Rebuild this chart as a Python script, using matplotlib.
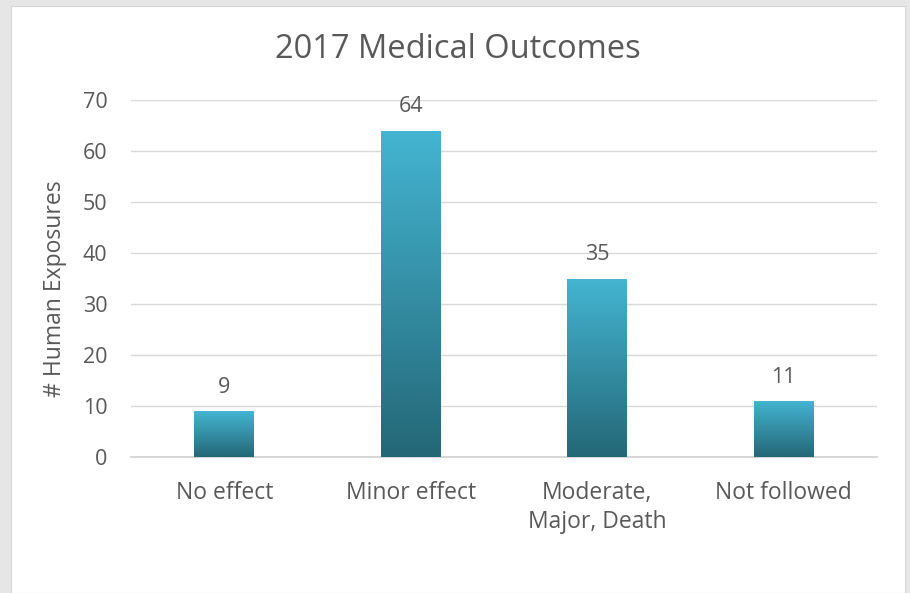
import numpy as np
import matplotlib.pyplot as plt
from matplotlib.patches import Rectangle
from matplotlib.colors import LinearSegmentedColormap

plt.rcParams['font.family'] = ['Open Sans', 'DejaVu Sans']

# data
categories = ['No effect', 'Minor effect', 'Moderate,\nMajor, Death', 'Not followed']
exposures = [9, 64, 35, 11]

grey = '#595959'

fig = plt.figure(figsize=(9.1, 5.93), dpi=100)
fig.patch.set_facecolor('#e6e6e6')
# white chart card
fig.patches.append(Rectangle((11 / 910, 0), (905 - 11) / 910, (593 - 6) / 593,
                             transform=fig.transFigure, facecolor='white',
                             edgecolor='#d4d4d4', lw=0.8, zorder=-5))

ax = fig.add_axes([131 / 910, (593 - 457) / 593, (877 - 131) / 910, (457 - 100) / 593])
ax.set_facecolor('none')
ax.set_zorder(2)

x = np.arange(len(categories))
bars = ax.bar(x, exposures, width=0.32, color='none', zorder=3)

# vertical gradient fill for each bar
cmap = LinearSegmentedColormap.from_list('bar', ['#246777', '#44b5d2'])
grad = np.linspace(0, 1, 256).reshape(-1, 1)
for b in bars:
    x0, y0 = b.get_x(), b.get_y()
    w, h = b.get_width(), b.get_height()
    im = ax.imshow(grad, cmap=cmap, origin='lower', aspect='auto',
                   extent=(x0, x0 + w, y0, y0 + h), zorder=3)
    im.set_clip_path(b)
    ax.annotate(str(h), (x0 + w / 2, h), xytext=(0, 17), textcoords='offset points',
                ha='center', va='center', fontsize=15.5, color=grey)

ax.set_xlim(-0.5, len(categories) - 0.5)
ax.set_ylim(0, 70)
ax.set_yticks(range(0, 71, 10))
ax.set_xticks(x)
ax.set_xticklabels(categories, fontsize=16.5, color=grey, linespacing=1.32)
ax.tick_params(axis='y', labelsize=15.5, colors=grey, length=0, pad=17)
ax.tick_params(axis='x', length=0, pad=17)

ax.grid(axis='y', color='#d9d9d9', lw=1, zorder=0)
for s in ['top', 'right', 'left']:
    ax.spines[s].set_visible(False)
ax.spines['bottom'].set_color('#d0d0d0')
ax.spines['bottom'].set_linewidth(1.2)

ax.set_ylabel('# Human Exposures', fontsize=16.5, color=grey)
ax.yaxis.set_label_coords((67 - 131) / 746, 0.5 - 10 / 357)
fig.text(458 / 910, 1 - 49 / 593, '2017 Medical Outcomes',
         ha='center', va='center', fontsize=23.5, color=grey)

fig.savefig('out.png', dpi=100, facecolor=fig.get_facecolor())
